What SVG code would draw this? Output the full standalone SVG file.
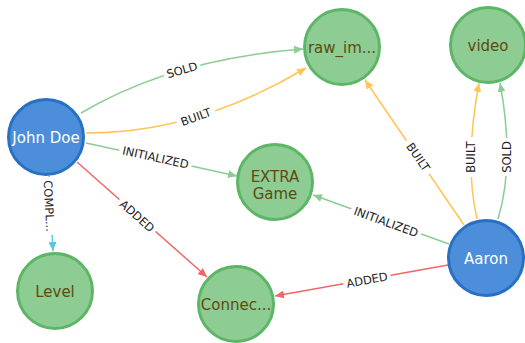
<svg xmlns="http://www.w3.org/2000/svg" width="525" height="343" viewBox="0 0 525 343">
  <style>
    .node-green circle { fill: #8DCC93; stroke: #5DB665; stroke-width: 3; }
    .node-blue circle { fill: #4C8EDA; stroke: #2870C2; stroke-width: 3; }
    .node-green text { fill: #604A0E; }
    .node-blue text { fill: #FFFFFF; }
    .node text { font-family: "DejaVu Sans", sans-serif; font-size: 15px; text-anchor: middle; }
    .edge { fill: none; stroke-width: 1.5; }
    .green { stroke: #8DCC93; }
    .orange { stroke: #FFC454; }
    .red { stroke: #F16667; }
    .blue { stroke: #57C7E3; }
    .lbl rect { fill: #FFFFFF; }
    .lbl text { font-family: "DejaVu Sans", sans-serif; font-size: 11.5px; fill: #222222; text-anchor: middle; }
  </style>
  <defs>
    <marker id="arrow-green" viewBox="0 0 9 8" refX="9" refY="4" markerWidth="9" markerHeight="8" markerUnits="userSpaceOnUse" orient="auto">
      <path d="M0,0 L9,4 L0,8 z" fill="#8DCC93"/>
    </marker>
    <marker id="arrow-orange" viewBox="0 0 9 8" refX="9" refY="4" markerWidth="9" markerHeight="8" markerUnits="userSpaceOnUse" orient="auto">
      <path d="M0,0 L9,4 L0,8 z" fill="#FFC454"/>
    </marker>
    <marker id="arrow-red" viewBox="0 0 9 8" refX="9" refY="4" markerWidth="9" markerHeight="8" markerUnits="userSpaceOnUse" orient="auto">
      <path d="M0,0 L9,4 L0,8 z" fill="#F16667"/>
    </marker>
    <marker id="arrow-blue" viewBox="0 0 9 8" refX="9" refY="4" markerWidth="9" markerHeight="8" markerUnits="userSpaceOnUse" orient="auto">
      <path d="M0,0 L9,4 L0,8 z" fill="#57C7E3"/>
    </marker>
  </defs>

  <!-- relationships -->
  <g id="connectors">
    <!-- John Doe -> raw_im... -->
    <path class="edge green" d="M81,113 Q172,59 303,49" marker-end="url(#arrow-green)"/>
    <path class="edge orange" d="M86,133 Q196,133.5 306,68" marker-end="url(#arrow-orange)"/>
    <!-- John Doe -> EXTRA Game -->
    <path class="edge green" d="M86,143 L237,176" marker-end="url(#arrow-green)"/>
    <!-- John Doe -> Connec... -->
    <path class="edge red" d="M77,162 L207,277" marker-end="url(#arrow-red)"/>
    <!-- John Doe -> Level -->
    <path class="edge blue" d="M49,176 L53,251" marker-end="url(#arrow-blue)"/>
    <!-- Aaron -> raw_im... -->
    <path class="edge orange" d="M464,225 L365,80" marker-end="url(#arrow-orange)"/>
    <!-- Aaron -> video -->
    <path class="edge orange" d="M477,219 Q464,163 479,83" marker-end="url(#arrow-orange)"/>
    <path class="edge green" d="M498,219 Q515,163 500,83" marker-end="url(#arrow-green)"/>
    <!-- Aaron -> EXTRA Game -->
    <path class="edge green" d="M449,244 L313,195" marker-end="url(#arrow-green)"/>
    <!-- Aaron -> Connec... -->
    <path class="edge red" d="M448,265 L275,296" marker-end="url(#arrow-red)"/>

    <!-- relationship captions -->
    <g class="lbl" transform="translate(182,70) rotate(-16)"><rect x="-19" y="-6" width="38" height="12"/><text y="4">SOLD</text></g>
    <g class="lbl" transform="translate(196,117) rotate(-20)"><rect x="-20" y="-6" width="40" height="12"/><text y="4">BUILT</text></g>
    <g class="lbl" transform="translate(155.5,157.5) rotate(12.3)"><rect x="-37" y="-6" width="74" height="12"/><text y="4">INITIALIZED</text></g>
    <g class="lbl" transform="translate(137,216) rotate(41.5)"><rect x="-24" y="-6" width="48" height="12"/><text y="4">ADDED</text></g>
    <g class="lbl" transform="translate(49,206) rotate(87)"><rect x="-29" y="-6" width="58" height="12"/><text y="4">COMPL...</text></g>
    <g class="lbl" transform="translate(418,157) rotate(55.7)"><rect x="-20" y="-6" width="40" height="12"/><text y="4">BUILT</text></g>
    <g class="lbl" transform="translate(471,157) rotate(-90)"><rect x="-20" y="-6" width="40" height="12"/><text y="4">BUILT</text></g>
    <g class="lbl" transform="translate(507,157) rotate(-90)"><rect x="-19" y="-6" width="38" height="12"/><text y="4">SOLD</text></g>
    <g class="lbl" transform="translate(386,222) rotate(19.8)"><rect x="-37" y="-6" width="74" height="12"/><text y="4">INITIALIZED</text></g>
    <g class="lbl" transform="translate(367,280) rotate(-10.2)"><rect x="-24" y="-6" width="48" height="12"/><text y="4">ADDED</text></g>
  </g>

  <!-- nodes -->
  <g id="node-john-doe" class="node node-blue">
    <circle cx="46" cy="137" r="37.5"/>
    <text x="46" y="142.5">John Doe</text>
  </g>
  <g id="node-raw-im" class="node node-green">
    <circle cx="342" cy="47" r="37.5"/>
    <text x="342" y="52.5">raw_im...</text>
  </g>
  <g id="node-video" class="node node-green">
    <circle cx="488" cy="45" r="37.5"/>
    <text x="488" y="50.5">video</text>
  </g>
  <g id="node-extra-game" class="node node-green">
    <circle cx="275" cy="182" r="37.5"/>
    <text x="275" y="181.5">EXTRA</text>
    <text x="275" y="198.5">Game</text>
  </g>
  <g id="node-level" class="node node-green">
    <circle cx="55" cy="291" r="37.5"/>
    <text x="55" y="296.5">Level</text>
  </g>
  <g id="node-connec" class="node node-green">
    <circle cx="236" cy="304" r="37.5"/>
    <text x="236" y="309.5">Connec...</text>
  </g>
  <g id="node-aaron" class="node node-blue">
    <circle cx="486" cy="258" r="37.5"/>
    <text x="486" y="263.5">Aaron</text>
  </g>
</svg>
